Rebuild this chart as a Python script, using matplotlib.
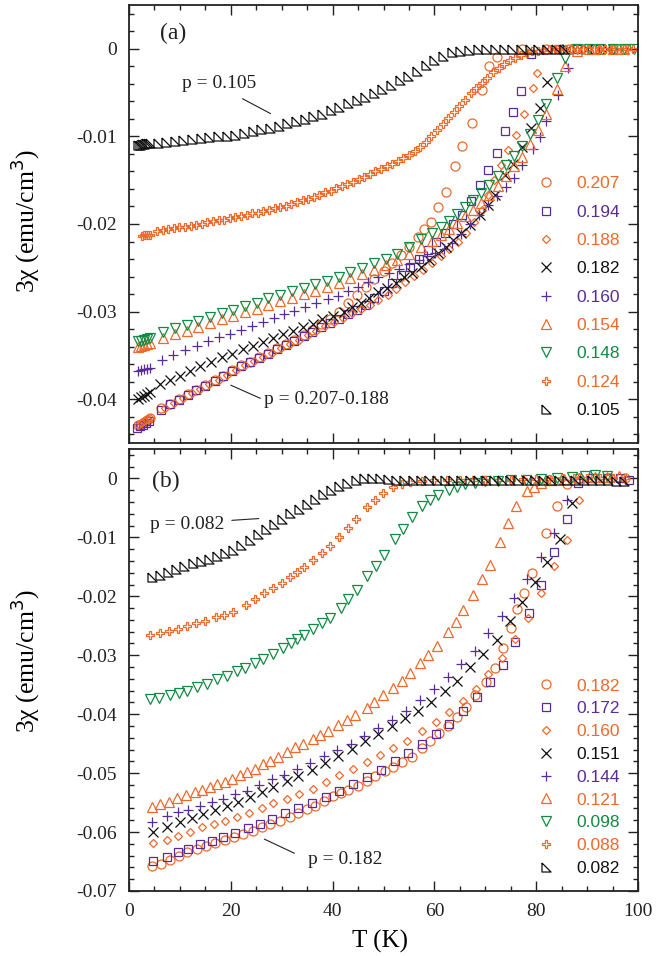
import matplotlib
matplotlib.use("Agg")
import matplotlib.pyplot as plt
from matplotlib.ticker import MultipleLocator

plt.rcParams['axes.unicode_minus'] = False
SERIF = ['Liberation Serif', 'DejaVu Serif']
SANS = ['Liberation Sans', 'DejaVu Sans']

ORANGE = '#EE6A2C'
PURPLE = '#5A2D96'
GREEN = '#138A43'
BLACK = '#111111'
TRI_LL = [(-1, 1), (-1, -1), (1, -1), (-1, 1)]

# ---------------- panel (a) data ----------------
a207_T = [1.8, 2.4, 3.0, 3.6, 4.2, 6.3, 8.0, 9.8, 11.5, 13.2, 15.0, 16.8, 18.5, 20.3, 22.0, 23.8, 25.5,
          27.3, 29.0, 30.8, 32.5, 34.3, 36.0, 37.8, 39.5, 41.3, 43.0, 44.8, 46.5, 48.2, 50.0, 51.7, 53.4,
          55.0, 56.7, 58.0, 59.4, 60.8, 62.3, 64.1, 65.5, 67.3, 69.3, 70.8, 72.2, 77.3, 82.0, 86.5]
a207_X = [-0.0430, -0.0428, -0.0426, -0.0424, -0.0422, -0.0410, -0.0405, -0.0400, -0.0394, -0.0389,
          -0.0384, -0.0378, -0.0373, -0.0367, -0.0361, -0.0357, -0.0352, -0.0347, -0.0342, -0.0337,
          -0.0332, -0.0327, -0.0321, -0.0314, -0.0308, -0.0300, -0.0290, -0.0281, -0.0272, -0.0263,
          -0.0254, -0.0245, -0.0235, -0.0226, -0.0215, -0.0206, -0.0198, -0.0181, -0.0163, -0.0134,
          -0.0111, -0.0085, -0.0047, -0.0020, -0.0009, 0.0000, 0.0000, 0.0000]

a194_T = [1.6, 2.2, 2.8, 3.4, 4.0, 6.3, 8.0, 9.8, 11.5, 13.2, 15.0, 16.8, 18.5, 20.3, 22.0, 23.8, 25.5,
          27.3, 29.0, 30.8, 32.5, 34.3, 36.0, 37.8, 39.5, 41.3, 43.0, 44.8, 46.5, 48.2, 50.0, 51.7, 53.5,
          55.2, 57.0, 58.7, 60.4, 62.0, 63.7, 65.4, 67.2, 69.0, 70.6, 72.2, 73.9, 75.4, 77.1, 79.0, 84.5,
          88.0, 91.5, 95.0]
a194_X = [-0.0433, -0.0431, -0.0429, -0.0427, -0.0425, -0.0412, -0.0406, -0.0401, -0.0395, -0.0390,
          -0.0385, -0.0379, -0.0374, -0.0368, -0.0362, -0.0358, -0.0353, -0.0348, -0.0343, -0.0338,
          -0.0333, -0.0328, -0.0323, -0.0318, -0.0313, -0.0308, -0.0303, -0.0298, -0.0292, -0.0285,
          -0.0276, -0.0267, -0.0258, -0.0249, -0.0240, -0.0230, -0.0220, -0.0210, -0.0200, -0.0190,
          -0.0174, -0.0156, -0.0138, -0.0119, -0.0094, -0.0072, -0.0048, -0.0006, 0.0000, 0.0000,
          0.0000, 0.0000]

a188_T = [1.8, 2.4, 3.0, 3.6, 4.2, 7.0, 8.8, 10.6, 12.3, 14.0, 15.8, 17.6, 19.3, 21.1, 22.8, 24.6, 26.3,
          28.1, 29.8, 31.6, 33.3, 35.1, 36.8, 38.6, 40.3, 42.1, 43.8, 45.6, 47.3, 49.0, 50.8, 52.5, 54.3,
          56.0, 57.8, 59.5, 61.2, 62.9, 64.6, 66.3, 67.8, 69.3, 70.6, 71.8, 73.1, 74.5, 76.0, 77.7, 79.4,
          80.2, 84.0]
a188_X = [-0.0429, -0.0427, -0.0425, -0.0423, -0.0421, -0.0410, -0.0404, -0.0399, -0.0393, -0.0388,
          -0.0383, -0.0378, -0.0372, -0.0367, -0.0361, -0.0356, -0.0352, -0.0347, -0.0342, -0.0337,
          -0.0332, -0.0327, -0.0322, -0.0317, -0.0312, -0.0307, -0.0302, -0.0297, -0.0292, -0.0287,
          -0.0281, -0.0274, -0.0266, -0.0259, -0.0252, -0.0245, -0.0237, -0.0229, -0.0220, -0.0210,
          -0.0198, -0.0184, -0.0167, -0.0150, -0.0133, -0.0116, -0.0098, -0.0075, -0.0045, -0.0028,
          0.0000]

a182_T = [1.8, 2.4, 3.0, 3.6, 4.2, 6.1, 8.1, 10.0, 12.0, 14.0, 16.2, 18.3, 20.3, 22.3, 24.3, 26.3, 28.3,
          30.2, 32.2, 34.2, 36.1, 38.0, 40.0, 42.2, 43.9, 45.6, 47.2, 48.9, 50.6, 52.4, 54.0, 55.6, 57.3,
          58.9, 60.8, 62.2, 63.7, 65.3, 67.0, 69.0, 70.6, 71.9, 73.9, 75.5, 77.2, 79.0, 80.8, 82.1, 86.0,
          90.0, 94.0]
a182_X = [-0.0400, -0.0398, -0.0396, -0.0394, -0.0392, -0.0383, -0.0378, -0.0374, -0.0368, -0.0362,
          -0.0358, -0.0352, -0.0348, -0.0343, -0.0339, -0.0335, -0.0330, -0.0326, -0.0322, -0.0318,
          -0.0314, -0.0309, -0.0305, -0.0301, -0.0295, -0.0290, -0.0284, -0.0278, -0.0273, -0.0267,
          -0.0261, -0.0256, -0.0249, -0.0241, -0.0233, -0.0226, -0.0218, -0.0210, -0.0201, -0.0190,
          -0.0178, -0.0167, -0.0144, -0.0131, -0.0112, -0.0090, -0.0068, -0.0038, 0.0000, 0.0000,
          0.0000]

a160_T = [1.8, 2.4, 3.0, 3.6, 4.2, 6.5, 8.7, 11.0, 13.3, 15.5, 17.7, 19.8, 22.0, 24.1, 26.3, 28.4, 30.5,
          32.5, 34.5, 36.8, 39.0, 41.0, 43.0, 45.0, 47.0, 49.0, 51.0, 53.0, 55.0, 57.0, 58.5, 60.2, 61.8,
          63.5, 65.3, 67.0, 68.8, 70.6, 72.3, 74.0, 75.6, 77.2, 79.4, 80.8, 82.0, 84.3, 86.3]
a160_X = [-0.0368, -0.0367, -0.0366, -0.0365, -0.0364, -0.0355, -0.0350, -0.0344, -0.0339, -0.0334,
          -0.0329, -0.0325, -0.0321, -0.0317, -0.0312, -0.0307, -0.0303, -0.0299, -0.0295, -0.0290,
          -0.0286, -0.0282, -0.0277, -0.0272, -0.0266, -0.0261, -0.0256, -0.0251, -0.0246, -0.0241,
          -0.0237, -0.0233, -0.0229, -0.0222, -0.0211, -0.0200, -0.0190, -0.0178, -0.0168, -0.0158,
          -0.0147, -0.0133, -0.0114, -0.0101, -0.0082, -0.0053, -0.0022]

a154_T = [1.8, 2.4, 3.0, 3.6, 4.2, 6.7, 9.0, 11.3, 13.6, 15.9, 18.2, 20.5, 22.8, 25.1, 27.4, 29.7, 32.0,
          34.3, 36.6, 38.9, 41.2, 43.5, 45.8, 48.1, 50.4, 52.7, 55.0, 57.3, 59.5, 61.2, 62.8, 64.4, 66.0,
          67.6, 69.2, 70.8, 72.4, 74.0, 75.6, 77.2, 78.8, 80.4, 82.0, 84.0, 85.7, 88.0, 90.3, 92.6, 95.0,
          97.3]
a154_X = [-0.0340, -0.0339, -0.0338, -0.0337, -0.0336, -0.0330, -0.0326, -0.0322, -0.0318, -0.0313,
          -0.0309, -0.0305, -0.0301, -0.0297, -0.0292, -0.0288, -0.0284, -0.0280, -0.0276, -0.0272,
          -0.0267, -0.0262, -0.0257, -0.0252, -0.0247, -0.0241, -0.0234, -0.0226, -0.0219, -0.0212,
          -0.0206, -0.0199, -0.0191, -0.0184, -0.0176, -0.0167, -0.0157, -0.0145, -0.0134, -0.0123,
          -0.0109, -0.0093, -0.0075, -0.0046, -0.0020, -0.0003, 0.0000, 0.0000, 0.0000, 0.0000]

a148_T = [1.8, 2.4, 3.0, 3.6, 4.2, 6.7, 9.0, 11.3, 13.6, 15.9, 18.2, 20.5, 22.8, 25.1, 27.4, 29.7, 32.0,
          34.3, 36.6, 38.9, 41.2, 43.5, 45.8, 48.1, 50.4, 52.7, 55.0, 57.3, 59.5, 61.2, 62.8, 64.4, 66.0,
          67.6, 69.2, 70.8, 72.4, 74.0, 75.6, 77.2, 78.8, 80.4, 82.0, 84.0, 85.7, 88.0, 90.3, 92.6, 95.0,
          97.3, 99.2]
a148_X = [-0.0334, -0.0333, -0.0332, -0.0331, -0.0330, -0.0323, -0.0319, -0.0315, -0.0311, -0.0306,
          -0.0302, -0.0298, -0.0294, -0.0290, -0.0285, -0.0281, -0.0277, -0.0273, -0.0269, -0.0265,
          -0.0260, -0.0255, -0.0250, -0.0245, -0.0240, -0.0234, -0.0226, -0.0217, -0.0210, -0.0203,
          -0.0197, -0.0189, -0.0181, -0.0173, -0.0165, -0.0156, -0.0145, -0.0133, -0.0122, -0.0111,
          -0.0097, -0.0081, -0.0063, -0.0033, -0.0011, 0.0000, 0.0000, 0.0000, 0.0000, 0.0000, 0.0000]

a124_T = [2.6, 3.0, 3.4, 3.8, 4.2, 5.5, 6.6, 7.7, 8.8, 9.9, 11.0, 12.1, 13.2, 14.3, 15.4, 16.5, 17.6,
          18.7, 19.8, 20.9, 22.0, 23.1, 24.2, 25.3, 26.4, 27.5, 28.6, 29.7, 30.8, 31.9, 33.0, 34.1, 35.2,
          36.3, 37.4, 38.5, 39.6, 40.7, 41.8, 42.9, 44.0, 45.1, 46.2, 47.3, 48.4, 49.5, 50.6, 51.7, 52.8,
          53.9, 55.0, 56.1, 57.2, 58.3, 59.4, 60.5, 61.6, 62.7, 63.8, 64.9, 66.0, 67.1, 68.2, 69.3, 70.4,
          71.5, 72.6, 73.7, 74.8, 75.9, 77.0, 78.1, 79.2, 80.3, 81.4, 82.5, 83.6, 84.7, 85.8, 86.9, 88.0,
          89.1, 90.2, 91.3, 92.4, 93.5, 94.6, 95.7, 96.8, 97.9, 99.0]
a124_X = [-0.0214, -0.0213, -0.0213, -0.0212, -0.0212, -0.0208, -0.0207, -0.0206, -0.0205, -0.0204,
          -0.0203, -0.0202, -0.0201, -0.0200, -0.0198, -0.0197, -0.0196, -0.0195, -0.0193, -0.0192,
          -0.0191, -0.0190, -0.0188, -0.0187, -0.0185, -0.0184, -0.0182, -0.0181, -0.0179, -0.0177,
          -0.0175, -0.0173, -0.0171, -0.0169, -0.0167, -0.0164, -0.0162, -0.0159, -0.0157, -0.0154,
          -0.0152, -0.0149, -0.0146, -0.0143, -0.0140, -0.0137, -0.0134, -0.0131, -0.0128, -0.0125,
          -0.0121, -0.0117, -0.0112, -0.0106, -0.0100, -0.0093, -0.0086, -0.0079, -0.0072, -0.0065,
          -0.0058, -0.0051, -0.0045, -0.0039, -0.0033, -0.0027, -0.0022, -0.0017, -0.0013, -0.0010,
          -0.0007, -0.0005, -0.0003, -0.0002, -0.0001, 0.0000, 0.0000, 0.0000, 0.0000, 0.0000, 0.0000,
          0.0000, 0.0000, 0.0000, 0.0000, 0.0000, 0.0000, 0.0000, 0.0000, 0.0000, 0.0000]

a105_T = [1.8, 2.2, 2.6, 3.0, 3.4, 3.8, 4.2, 5.6, 7.3, 9.0, 10.7, 12.4, 14.1, 15.8, 17.5, 19.2, 20.9,
          22.6, 24.3, 26.0, 27.7, 29.4, 31.1, 32.8, 34.5, 36.2, 37.9, 39.6, 41.3, 43.0, 44.7, 46.4, 48.1,
          49.8, 51.5, 53.2, 54.9, 56.6, 58.3, 60.0, 61.7, 63.4, 65.1, 66.8, 68.5, 70.2, 71.9, 73.6, 75.3,
          77.0, 78.7, 80.4, 82.1, 83.8, 85.5]
a105_X = [-0.0110, -0.0110, -0.0109, -0.0109, -0.0108, -0.0108, -0.0108, -0.0107, -0.0106, -0.0105,
          -0.0104, -0.0103, -0.0102, -0.0101, -0.0100, -0.0099, -0.0098, -0.0096, -0.0094, -0.0092,
          -0.0090, -0.0088, -0.0085, -0.0083, -0.0080, -0.0077, -0.0074, -0.0070, -0.0066, -0.0062,
          -0.0058, -0.0055, -0.0051, -0.0046, -0.0041, -0.0036, -0.0031, -0.0025, -0.0019, -0.0013,
          -0.0008, -0.0004, -0.0002, -0.0001, 0.0000, 0.0000, 0.0000, 0.0000, 0.0000, 0.0000, 0.0000,
          0.0000, 0.0000, 0.0000, 0.0000]

# ---------------- panel (b) data ----------------
b182_T = [4.6, 6.3, 8.1, 9.9, 11.4, 13.4, 15.2, 16.9, 18.9, 20.7, 22.4, 24.4, 26.1, 27.7, 29.7, 31.7, 33.2,
          35.0, 36.6, 38.3, 40.1, 41.7, 43.0, 45.0, 46.7, 48.3, 50.3, 51.8, 53.6, 55.6, 57.5, 59.1, 61.0,
          62.6, 64.4, 66.2, 68.0, 70.1, 71.9, 73.4, 75.0, 76.2, 77.6, 79.2, 82.0, 84.0, 86.0, 88.5, 91.5,
          94.5, 97.5]
b182_X = [-0.0658, -0.0654, -0.0647, -0.0641, -0.0634, -0.0629, -0.0624, -0.0619, -0.0613, -0.0608,
          -0.0603, -0.0598, -0.0592, -0.0586, -0.0581, -0.0575, -0.0568, -0.0561, -0.0556, -0.0547,
          -0.0539, -0.0533, -0.0528, -0.0521, -0.0514, -0.0505, -0.0497, -0.0489, -0.0481, -0.0472,
          -0.0457, -0.0446, -0.0432, -0.0420, -0.0404, -0.0388, -0.0368, -0.0346, -0.0322, -0.0287,
          -0.0254, -0.0222, -0.0195, -0.0160, -0.0092, -0.0047, -0.0010, 0.0000, 0.0000, 0.0000, 0.0000]

b172_T = [4.8, 7.5, 9.7, 11.6, 14.0, 16.3, 18.5, 20.8, 23.4, 25.7, 28.1, 30.7, 33.2, 35.9, 38.7, 41.3, 44.0,
          46.7, 49.6, 52.2, 54.8, 57.5, 60.3, 62.8, 65.6, 68.3, 70.9, 73.4, 75.9, 78.5, 81.0, 83.5, 86.0,
          88.3, 91.0, 94.0, 96.5, 98.3]
b172_X = [-0.0649, -0.0642, -0.0634, -0.0629, -0.0621, -0.0615, -0.0608, -0.0602, -0.0593, -0.0586,
          -0.0578, -0.0567, -0.0559, -0.0551, -0.0540, -0.0531, -0.0518, -0.0506, -0.0494, -0.0480,
          -0.0466, -0.0451, -0.0434, -0.0417, -0.0395, -0.0371, -0.0346, -0.0317, -0.0278, -0.0229,
          -0.0180, -0.0125, -0.0069, -0.0008, 0.0000, 0.0000, 0.0000, -0.0002]

b160_T = [4.8, 7.5, 9.7, 12.0, 14.4, 16.6, 18.9, 21.2, 23.6, 26.1, 28.3, 31.0, 33.4, 36.2, 38.7, 41.3, 44.0,
          46.7, 49.3, 51.8, 54.6, 57.5, 60.3, 62.8, 65.6, 68.1, 70.5, 73.2, 75.8, 78.3, 81.0, 83.5, 86.0,
          88.5]
b160_X = [-0.0619, -0.0613, -0.0607, -0.0600, -0.0592, -0.0586, -0.0581, -0.0575, -0.0567, -0.0559,
          -0.0551, -0.0544, -0.0536, -0.0527, -0.0515, -0.0504, -0.0493, -0.0481, -0.0470, -0.0457,
          -0.0445, -0.0429, -0.0414, -0.0397, -0.0378, -0.0357, -0.0331, -0.0305, -0.0273, -0.0236,
          -0.0195, -0.0149, -0.0105, -0.0037]

b151_T = [4.8, 7.5, 10.1, 12.4, 14.6, 16.9, 19.3, 21.5, 23.8, 26.1, 28.3, 31.0, 33.2, 35.9, 38.5, 41.1, 43.8,
          46.3, 48.9, 51.6, 54.2, 56.7, 59.3, 62.0, 64.4, 66.9, 69.5, 72.2, 74.8, 77.3, 79.7, 82.2, 84.6,
          87.1]
b151_X = [-0.0600, -0.0592, -0.0583, -0.0576, -0.0569, -0.0563, -0.0556, -0.0549, -0.0540, -0.0532,
          -0.0523, -0.0514, -0.0505, -0.0495, -0.0482, -0.0471, -0.0459, -0.0446, -0.0434, -0.0420,
          -0.0407, -0.0395, -0.0380, -0.0361, -0.0344, -0.0320, -0.0298, -0.0274, -0.0242, -0.0210,
          -0.0176, -0.0142, -0.0102, -0.0041]

b144_T = [4.6, 7.5, 9.7, 11.6, 14.0, 16.3, 18.5, 20.8, 23.2, 25.6, 28.1, 30.4, 33.0, 35.6, 38.3, 40.9, 43.6,
          46.2, 48.9, 51.6, 54.4, 57.1, 59.9, 62.6, 65.3, 67.9, 70.5, 73.2, 75.6, 78.1, 80.9, 83.5, 86.0]
b144_X = [-0.0583, -0.0573, -0.0566, -0.0562, -0.0556, -0.0549, -0.0544, -0.0536, -0.0530, -0.0520,
          -0.0510, -0.0503, -0.0493, -0.0482, -0.0471, -0.0460, -0.0450, -0.0437, -0.0424, -0.0410,
          -0.0395, -0.0376, -0.0357, -0.0337, -0.0315, -0.0293, -0.0263, -0.0234, -0.0202, -0.0171,
          -0.0134, -0.0093, -0.0036]

b121_T = [4.5, 6.0, 7.9, 9.5, 11.2, 13.0, 14.4, 16.0, 17.3, 18.9, 20.3, 21.8, 23.2, 24.8, 26.4, 27.7, 29.3,
          31.0, 32.6, 34.2, 36.2, 37.5, 39.1, 41.1, 42.8, 44.4, 46.7, 48.1, 49.9, 51.8, 53.6, 55.2, 57.1,
          58.7, 60.5, 62.6, 64.2, 65.7, 67.5, 69.3, 70.9, 72.8, 74.4, 76.0, 78.1, 79.5, 81.0, 83.0, 85.5,
          88.5, 91.5, 94.0, 96.3]
b121_X = [-0.0558, -0.0552, -0.0549, -0.0542, -0.0537, -0.0532, -0.0528, -0.0524, -0.0519, -0.0515,
          -0.0510, -0.0503, -0.0498, -0.0493, -0.0485, -0.0480, -0.0472, -0.0464, -0.0456, -0.0450,
          -0.0442, -0.0436, -0.0429, -0.0419, -0.0409, -0.0401, -0.0389, -0.0380, -0.0368, -0.0355,
          -0.0343, -0.0330, -0.0313, -0.0300, -0.0285, -0.0261, -0.0243, -0.0224, -0.0197, -0.0171,
          -0.0146, -0.0107, -0.0075, -0.0047, -0.0022, -0.0014, -0.0007, -0.0003, -0.0001, 0.0000,
          0.0002, 0.0003, 0.0005]

b098_T = [4.2, 5.8, 8.1, 9.8, 11.4, 13.4, 15.3, 17.2, 19.3, 21.2, 22.8, 24.8, 26.4, 28.3, 30.3, 31.8, 33.0,
          34.4, 36.2, 38.0, 39.5, 41.7, 43.0, 44.8, 46.8, 48.5, 50.0, 52.2, 53.8, 55.6, 57.5, 59.1, 60.7,
          62.8, 64.4, 66.1, 68.0, 70.0, 72.4, 75.0, 78.0, 81.0, 84.0, 87.0, 89.5, 91.5, 94.0]
b098_X = [-0.0375, -0.0373, -0.0368, -0.0364, -0.0360, -0.0354, -0.0348, -0.0341, -0.0335, -0.0327,
          -0.0321, -0.0313, -0.0306, -0.0297, -0.0287, -0.0280, -0.0273, -0.0265, -0.0256, -0.0245,
          -0.0236, -0.0219, -0.0205, -0.0189, -0.0166, -0.0148, -0.0129, -0.0103, -0.0085, -0.0066,
          -0.0047, -0.0037, -0.0028, -0.0019, -0.0014, -0.0010, -0.0007, -0.0005, -0.0004, -0.0003,
          -0.0002, -0.0001, 0.0000, 0.0002, 0.0004, 0.0006, 0.0004]

b088_T = [4.2, 6.0, 7.8, 9.6, 11.3, 13.2, 15.0, 17.0, 18.7, 20.5, 23.0, 24.8, 26.6, 28.3, 30.0, 31.6, 33.0,
          34.4, 36.2, 38.0, 39.5, 41.3, 43.0, 44.6, 46.7, 48.3, 49.9, 51.8, 53.6, 55.3, 57.5, 60.0, 62.5,
          65.0, 67.5, 70.0, 72.5, 75.0, 77.5, 80.0, 82.5, 85.0, 87.5, 90.0, 92.5, 95.0, 97.5]
b088_X = [-0.0266, -0.0263, -0.0259, -0.0255, -0.0251, -0.0246, -0.0241, -0.0235, -0.0231, -0.0226,
          -0.0214, -0.0205, -0.0195, -0.0186, -0.0177, -0.0167, -0.0159, -0.0151, -0.0138, -0.0126,
          -0.0115, -0.0099, -0.0084, -0.0068, -0.0049, -0.0036, -0.0025, -0.0015, -0.0010, -0.0006,
          -0.0004, -0.0003, -0.0003, -0.0003, -0.0002, -0.0002, -0.0002, -0.0002, -0.0001, -0.0001,
          -0.0001, 0.0000, 0.0000, 0.0000, 0.0000, 0.0000, 0.0000]

b082_T = [4.5, 6.1, 7.7, 9.3, 10.9, 12.5, 14.1, 15.7, 17.3, 18.9, 20.5, 22.1, 23.7, 25.3, 26.9, 28.5, 30.1,
          31.7, 33.3, 34.9, 36.5, 38.1, 39.7, 41.3, 42.9, 44.5, 46.1, 47.7, 49.3, 50.9, 52.5, 54.1, 55.7,
          57.3, 58.9, 60.5, 62.1, 63.7, 65.3, 66.9, 68.5, 70.1, 71.7, 73.3, 74.9, 76.5, 78.1, 79.7, 81.3,
          82.9, 84.5, 86.1, 87.7, 89.3, 90.9, 92.5, 94.1, 95.7, 97.3]
b082_X = [-0.0168, -0.0163, -0.0158, -0.0153, -0.0149, -0.0144, -0.0140, -0.0136, -0.0132, -0.0127,
          -0.0121, -0.0113, -0.0104, -0.0095, -0.0086, -0.0077, -0.0068, -0.0059, -0.0051, -0.0043,
          -0.0035, -0.0027, -0.0020, -0.0013, -0.0007, -0.0003, 0.0000, 0.0001, 0.0000, -0.0001,
          -0.0002, -0.0002, -0.0002, -0.0002, -0.0002, -0.0002, -0.0002, -0.0002, -0.0002, -0.0002,
          -0.0002, -0.0002, -0.0002, -0.0002, -0.0002, -0.0002, -0.0002, -0.0002, -0.0002, -0.0002,
          -0.0002, -0.0002, -0.0002, -0.0002, -0.0002, -0.0003, -0.0003, -0.0004, -0.0005]

# series definitions: (label, T, chi, marker, size, color)
SERIES_A = [
    ('0.207', a207_T, a207_X, 'o', 6.5, ORANGE),
    ('0.194', a194_T, a194_X, 's', 6.0, PURPLE),
    ('0.188', a188_T, a188_X, 'D', 4.2, ORANGE),
    ('0.182', a182_T, a182_X, 'x', 7.0, BLACK),
    ('0.160', a160_T, a160_X, '+', 7.0, PURPLE),
    ('0.154', a154_T, a154_X, '^', 6.5, ORANGE),
    ('0.148', a148_T, a148_X, 'v', 6.5, GREEN),
    ('0.124', a124_T, a124_X, 'P', 5.2, ORANGE),
    ('0.105', a105_T, a105_X, TRI_LL, 6.5, BLACK),
]
SERIES_B = [
    ('0.182', b182_T, b182_X, 'o', 6.5, ORANGE),
    ('0.172', b172_T, b172_X, 's', 6.0, PURPLE),
    ('0.160', b160_T, b160_X, 'D', 4.2, ORANGE),
    ('0.151', b151_T, b151_X, 'x', 7.0, BLACK),
    ('0.144', b144_T, b144_X, '+', 7.0, PURPLE),
    ('0.121', b121_T, b121_X, '^', 6.5, ORANGE),
    ('0.098', b098_T, b098_X, 'v', 6.5, GREEN),
    ('0.088', b088_T, b088_X, 'P', 5.2, ORANGE),
    ('0.082', b082_T, b082_X, TRI_LL, 6.5, BLACK),
]

YTICKS_A = [0, -0.01, -0.02, -0.03, -0.04]
YLABELS_A = ['0', '-0.01', '-0.02', '-0.03', '-0.04']
YTICKS_B = [0, -0.01, -0.02, -0.03, -0.04, -0.05, -0.06, -0.07]
YLABELS_B = ['0', '-0.01', '-0.02', '-0.03', '-0.04', '-0.05', '-0.06', '-0.07']
XTICKS = [0, 20, 40, 60, 80, 100]
XLABELS = ['0', '20', '40', '60', '80', '100']

fig = plt.figure(figsize=(6.65, 9.56), dpi=100)
axA = fig.add_axes([0.1940, 0.5366, 0.7654, 0.4582])
axB = fig.add_axes([0.1940, 0.0680, 0.7654, 0.4623])


def style_axis(ax, yticks, ylabels, ylim, show_x, ylab_y):
    ax.set_xlim(0, 100)
    ax.set_ylim(*ylim)
    ax.set_yticks(yticks)
    ax.set_yticklabels(ylabels, fontfamily=SERIF, fontsize=14)
    ax.set_xticks(XTICKS)
    if show_x:
        ax.set_xticklabels(XLABELS, fontfamily=SERIF, fontsize=14)
    else:
        ax.set_xticklabels([])
    ax.xaxis.set_minor_locator(MultipleLocator(5))
    ax.yaxis.set_minor_locator(MultipleLocator(0.002))
    ax.tick_params(which='both', direction='in', top=True, right=True, width=1.0, colors='#222222')
    ax.tick_params(which='major', length=7, pad=9)
    ax.tick_params(which='minor', length=3.5)
    for sp in ax.spines.values():
        sp.set_linewidth(1.3)
        sp.set_color('#222222')
    ax.set_ylabel('3χ (emu/cm$^3$)', fontfamily=SERIF, fontsize=18.5)
    ax.yaxis.set_label_coords(-0.171, ylab_y)


def draw_series(ax, series, top, spacing):
    for lab, T, X, mk, ms, col in series:
        ax.plot(T, X, linestyle='none', marker=mk, markersize=ms, markerfacecolor='none',
                markeredgecolor=col, markeredgewidth=0.9, label=lab)
    leg = ax.legend(loc='upper left', bbox_to_anchor=(0.803, top), frameon=False, numpoints=1,
                    handlelength=1.0, handletextpad=1.25, labelspacing=spacing, borderpad=0,
                    borderaxespad=0, prop={'family': SANS, 'size': 12.5})
    for txt, s in zip(leg.get_texts(), series):
        txt.set_color(s[5])


draw_series(axA, SERIES_A, 0.609, 0.76)
draw_series(axB, SERIES_B, 0.481, 0.44)
style_axis(axA, YTICKS_A, YLABELS_A, (-0.045, 0.005), False, 0.507)
style_axis(axB, YTICKS_B, YLABELS_B, (-0.070, 0.005), True, 0.52)
axB.set_xlabel('T (K)', fontfamily=SERIF, fontsize=18)
axB.xaxis.set_label_coords(0.493, -0.088)

TXT = dict(fontfamily=SERIF, fontsize=14, color='#222222', va='center', ha='left')
LINE = dict(arrowstyle='-', lw=0.8, color='#222222', shrinkA=0, shrinkB=0)

axA.text(6.1, 0.0017, '(a)', fontfamily=SERIF, fontsize=17, va='center', ha='left', color='#222222')
axB.text(4.5, -0.0005, '(b)', fontfamily=SERIF, fontsize=17, va='center', ha='left', color='#222222')

axA.text(10.4, -0.0040, 'p = 0.105', **TXT)
axA.annotate('', xy=(27.8, -0.0074), xytext=(22.3, -0.0057), arrowprops=LINE)
axA.text(26.6, -0.0400, 'p = 0.207-0.188', **TXT)
axA.annotate('', xy=(20.0, -0.0384), xytext=(25.8, -0.0399), arrowprops=LINE)

axB.text(4.2, -0.0078, 'p = 0.082', **TXT)
axB.annotate('', xy=(25.5, -0.0068), xytext=(20.2, -0.0071), arrowprops=LINE)
axB.text(35.1, -0.0646, 'p = 0.182', **TXT)
axB.annotate('', xy=(26.6, -0.0612), xytext=(32.5, -0.0636), arrowprops=LINE)

fig.savefig('out.png', dpi=100)
